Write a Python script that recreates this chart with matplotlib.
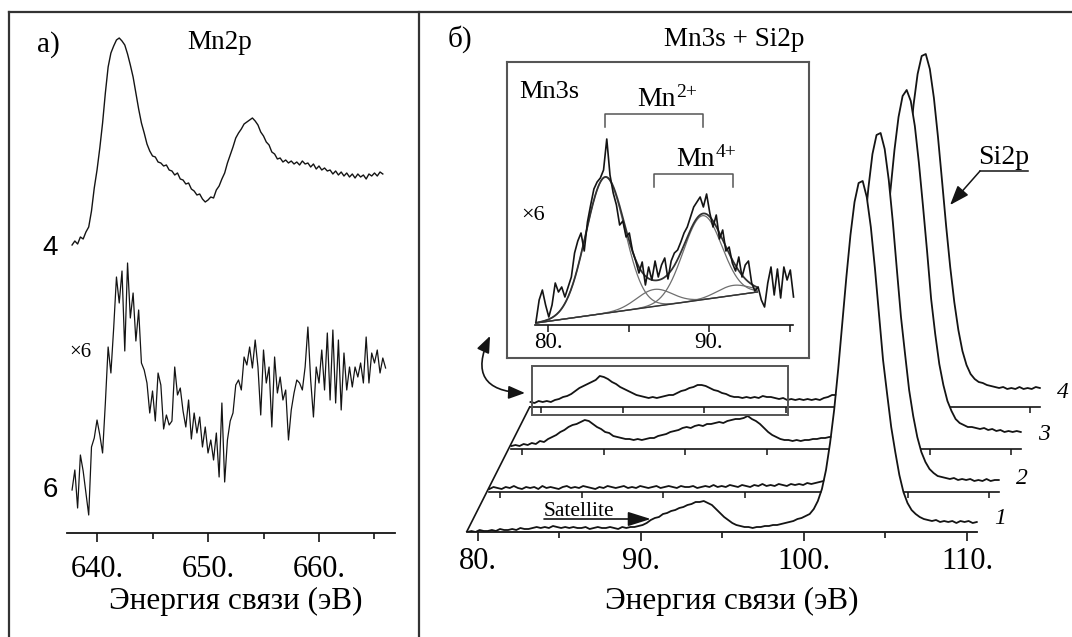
import numpy as np
import matplotlib.pyplot as plt
from matplotlib.lines import Line2D
from matplotlib.patches import Rectangle
from matplotlib.ticker import FuncFormatter

plt.rcParams['font.family'] = ['Liberation Serif', 'DejaVu Serif']

ink = '#141414'
grey = '#555555'

# --- Mn2p spectra, samples 4 and 6 (sample 6 scaled x6) ---
mn2p_e0, mn2p_step = 637.75, 0.25
mn2p_4 = [288, 292, 289, 296, 294, 301, 306, 322, 345, 363,
          385, 410, 440, 466, 480, 487, 493, 495, 492, 488,
          479, 468, 456, 440, 424, 410, 400, 389, 382, 377,
          376, 371, 370, 367, 368, 363, 362, 358, 360, 354,
          353, 349, 350, 344, 342, 338, 339, 334, 331, 333,
          336, 335, 343, 347, 354, 360, 370, 378, 386, 395,
          400, 404, 409, 411, 413, 415, 412, 408, 401, 397,
          391, 388, 381, 379, 374, 375, 371, 373, 370, 372,
          369, 371, 368, 372, 369, 370, 366, 369, 364, 367,
          363, 365, 362, 363, 359, 362, 358, 361, 357, 360,
          356, 359, 355, 359, 356, 358, 354, 359, 357, 360,
          357, 361, 359]
mn2p_6 = [43, 63, 25, 78, 62, 40, 18, 86, 95, 113,
          98, 80, 130, 186, 160, 205, 256, 230, 262, 182,
          270, 215, 240, 192, 223, 170, 163, 150, 120, 142,
          112, 160, 148, 104, 118, 108, 112, 166, 138, 145,
          122, 106, 133, 94, 120, 100, 116, 86, 106, 80,
          93, 73, 100, 56, 130, 51, 93, 112, 120, 148,
          153, 143, 176, 168, 186, 165, 193, 166, 118, 183,
          150, 166, 106, 176, 140, 156, 133, 143, 93, 123,
          140, 153, 150, 143, 166, 206, 153, 116, 166, 150,
          183, 143, 200, 133, 203, 130, 193, 123, 180, 143,
          166, 146, 166, 156, 170, 150, 196, 150, 180, 170,
          183, 160, 175, 165]

# --- Mn3s + Si2p spectra, samples 1-4, common energy grid ---
si_e0, si_step = 79.35, 0.25
si2p_1 = [0, 1, 0, 2, 1, 1, 2, 1, 3, 2, 2, 3, 2, 4, 3, 3, 4, 5, 4, 5,
          4, 6, 5, 4, 5, 4, 5, 4, 4, 5, 3, 4, 5, 4, 4, 5, 4, 3, 5, 4,
          5, 5, 6,
          7, 9, 12, 14, 15, 18, 19, 21, 22, 24, 25, 27, 28, 30, 30, 31, 29, 27, 23, 19,
          15, 12, 9, 7, 6, 5, 5, 4, 5, 5, 6, 6, 7, 7, 8, 9, 10, 11, 13,
          14, 16, 18, 23, 31, 43, 62, 89, 122, 163, 209, 255, 297, 330, 349, 351, 335, 305,
          264, 218, 172, 138, 105, 80, 57, 40, 29, 22, 18, 15, 13, 12, 11, 12, 10, 11,
          10, 11, 9, 11, 10, 11, 9, 10]
si2p_2 = [3, 5, 4, 3, 5, 4, 6, 4, 3, 5, 4, 5, 3, 6, 4, 5, 4, 3, 5, 6,
          4, 5, 4, 6, 5, 4, 3, 5, 4, 6, 5, 4, 5, 6, 4, 5, 4, 6, 5, 4,
          5, 6, 4, 5, 6, 5, 4, 6, 5, 5, 6, 4, 5, 6, 5, 7, 5, 6, 5, 7,
          6, 5, 7, 6, 5, 7, 6, 8, 6, 7, 6, 8, 7, 6, 8, 7, 8, 7, 9, 8,
          9, 10, 11, 13, 21, 29, 42, 62, 89, 124, 166, 213, 261, 304, 338, 357, 359, 343,
          312, 270, 222, 175, 138, 102, 76, 55, 40, 30, 23, 19, 16, 15, 14, 13, 14, 12,
          13, 12, 13, 11, 12, 11, 13, 11, 12, 12]
si2p_3 = [3, 4, 3, 5, 4, 6, 5, 8, 7, 10, 12, 14, 17, 19, 22, 24, 25, 27, 29, 28,
          25, 22, 20, 17, 16, 13, 12, 11, 10, 10, 9, 10, 9, 10, 11, 11, 13, 14, 15, 17,
          18, 19, 21, 22, 21, 23, 24, 23, 25, 25, 26, 27, 26, 28, 29, 30, 30, 31, 33, 30,
          28, 25, 21, 17, 14, 12, 10, 9, 9, 8, 9, 8, 9, 9, 10, 10, 11, 11, 12, 12,
          13, 14, 16, 18,
          21, 27, 36, 49, 68, 95, 128, 168, 212, 258, 299, 332, 353, 359, 348, 323,
          286, 243, 198, 150, 115, 85, 64, 48, 38, 30, 26, 24, 22, 22, 21, 20, 21, 19,
          20, 18, 19, 17, 18, 17, 18, 17]
si2p_4 = [5, 4, 6, 5, 6, 5, 7, 8, 10, 11, 13, 16, 19, 21, 23, 25, 27, 31, 30, 28,
          25, 23, 20, 18, 16, 14, 12, 11, 10, 9, 10, 9, 10, 11, 12, 12, 14, 16, 17, 19,
          20, 22, 22, 21, 19, 17, 16, 14, 13, 11, 10, 10, 9, 10, 9, 10, 9, 11, 10, 10,
          9, 8, 9, 7, 8, 7, 8, 7, 8, 7, 8, 7, 9, 10, 12, 12, 13, 13, 14, 15,
          16, 17, 19, 21, 24,
          31, 39, 53, 72, 98, 132, 172, 217, 262, 302, 333, 351, 353, 338, 309, 270,
          226, 181, 140, 105, 77, 56, 42, 33, 28, 25, 24, 22, 21, 20, 19, 20, 18, 19,
          18, 20, 18, 19, 18, 20, 19]
sample_names = ['1', '2', '3', '4']

# waterfall shift of each trace (energy, intensity)
stack_dx = [0.0, 1.35, 2.70, 3.87]
stack_dy = [0, 40, 83, 125]

# --- Mn3s detail of sample 4 (x6) with fit ---
mn3s_e0, mn3s_step = 79.25, 0.2
mn3s_4 = [3, 25, 35, 20, 8, 20, 42, 33, 38, 28,
          38, 48, 72, 84, 92, 74, 103, 120, 136, 143,
          147, 155, 186, 150, 132, 120, 100, 104, 88, 92,
          74, 64, 52, 63, 40, 58, 45, 64, 48, 60,
          67, 46, 64, 72, 75, 83, 92, 98, 108, 118,
          123, 128, 118, 131, 112, 98, 110, 86, 95, 74,
          78, 62, 54, 68, 48, 60, 64, 42, 34, 38,
          25, 18, 42, 58, 30, 56, 27, 58, 45, 55,
          28]
fit_lo, fit_hi = 79.25, 93.0
bg_lo, bg_hi = 2, 33
peak_centre = [83.55, 86.6, 89.6, 91.5]
peak_height = [136, 17, 84, 10]
peak_sigma = [1.2, 1.1, 1.2, 1.0]


def fx(px):
    return px / 1072.0


def fy(py):
    return 1.0 - py / 637.0


def energy_axis(ax, lo, hi, major, minor, pad):
    for s in ('top', 'right', 'left'):
        ax.spines[s].set_visible(False)
    ax.spines['bottom'].set_bounds(lo, hi)
    ax.spines['bottom'].set_linewidth(1.3)
    ax.spines['bottom'].set_color(ink)
    ax.set_yticks([])
    ax.set_xticks(major)
    ax.set_xticks(minor, minor=True)
    ax.xaxis.set_major_formatter(FuncFormatter(lambda v, p: '%d.' % v))
    ax.tick_params(axis='x', which='major', direction='out', length=6.5,
                   width=1.2, color=ink, labelsize=22, pad=pad)
    ax.tick_params(axis='x', which='minor', direction='out', length=4.5,
                   width=1.2, color=ink)
    ax.patch.set_visible(False)


def ion_label(ax, x, y, charge):
    # "Mn" with a raised charge, anchored where the two meet
    ax.text(x, y, 'Mn', fontsize=20, ha='right', va='baseline')
    ax.text(x + 0.05, y + 9, charge, fontsize=14, ha='left', va='baseline')


fig = plt.figure(figsize=(10.72, 6.37), dpi=100)

# outer frame and divider
for xs, ys in (([fx(9), 1.0], [fy(12), fy(12)]),
               ([fx(9), fx(9)], [fy(12), 0.0]),
               ([fx(419), fx(419)], [fy(12), 0.0])):
    fig.add_artist(Line2D(xs, ys, color='#333333', lw=1.6))

# ---------------- panel a: Mn2p ----------------
ax_a = fig.add_axes([fx(30), fy(533), fx(380), 513 / 637])
ax_a.set_xlim(633.96, 668.2)
ax_a.set_ylim(0, 513)
energy_axis(ax_a, 637.3, 666.85, [640, 650, 660], [645, 655, 665], 9.5)

e_a4 = mn2p_e0 + mn2p_step * np.arange(len(mn2p_4))
e_a6 = mn2p_e0 + mn2p_step * np.arange(len(mn2p_6))
ax_a.plot(e_a4, mn2p_4, color=ink, lw=1.0)
ax_a.plot(e_a6, mn2p_6, color=ink, lw=0.9)
ax_a.text(e_a4[0] - 2.0, mn2p_4[0] - 3, '4', family='Liberation Sans',
          fontsize=20, ha='center', va='center')
ax_a.text(e_a6[0] - 2.0, mn2p_6[0], '6', family='Liberation Sans',
          fontsize=20, ha='center', va='center')
ax_a.text(638.5, 181, '×6', fontsize=15, ha='center', va='center')
ax_a.set_xlabel('Энергия связи (эВ)', fontsize=22.5)
ax_a.xaxis.set_label_coords(0.542, -0.105)

fig.text(fx(48), fy(52), 'а)', fontsize=21, ha='center', va='baseline')
fig.text(fx(220), fy(49), 'Mn2p', fontsize=19.5, ha='center', va='baseline')

# ---------------- panel b: Mn3s + Si2p ----------------
ax_b = fig.add_axes([fx(440), fy(532), fx(632), 512 / 637])
ax_b.set_xlim(77.669, 116.442)
ax_b.set_ylim(0, 512)
axis_lo, axis_hi = 79.3, 110.6
energy_axis(ax_b, axis_lo, axis_hi, [80, 90, 100, 110], [85, 95, 105], 4)
ax_b.spines['bottom'].set_zorder(13)
ax_b.set_xlabel('Энергия связи (эВ)', fontsize=22.5)
ax_b.xaxis.set_label_coords(0.462, -0.107)

e_si = si_e0 + si_step * np.arange(len(si2p_1))
traces = [si2p_1, si2p_2, si2p_3, si2p_4]
ticks = np.arange(80, 111, 5)
for k in (3, 2, 1, 0):
    z = 2 + (3 - k) * 3
    dx, dy = stack_dx[k], stack_dy[k]
    x = e_si + dx
    y = np.asarray(traces[k]) + dy
    ax_b.fill_between(x, dy, y, color='white', lw=0, zorder=z)
    if k > 0:
        ax_b.plot([axis_lo + dx, axis_hi + dx], [dy, dy], color=ink, lw=1.2, zorder=z + 1)
        ax_b.vlines(ticks + dx, dy - 6, dy, color=ink, lw=1.1, zorder=z + 1)
    ax_b.plot(x, y, color=ink, lw=1.3, zorder=z + 2)
    ax_b.text(x[-1] + 1.4, dy + 14, sample_names[k], style='italic',
              fontsize=17, ha='center', va='center')

# slanted edge joining the starts of the stacked axes
ax_b.plot([axis_lo + stack_dx[0], axis_lo + stack_dx[3]],
          [stack_dy[0], stack_dy[3]], color=ink, lw=1.2, zorder=20)

# frame marking the region enlarged in the inset
ax_b.add_patch(Rectangle((79.45 + stack_dx[3], stack_dy[3] - 8), 15.7, 49,
                         fill=False, edgecolor=grey, lw=1.4, zorder=20))
ax_b.annotate('', xy=(82.88, 139), xytext=(80.74, 196),
              arrowprops=dict(arrowstyle='<|-|>,head_length=0.5,head_width=0.2',
                              connectionstyle='arc3,rad=0.75', color=ink, lw=1.2,
                              shrinkA=0, shrinkB=0, mutation_scale=20),
              zorder=20)

# satellite marker
ax_b.text(84.05, 16, 'Satellite', fontsize=15.5, ha='left', va='baseline', zorder=20)
ax_b.annotate('', xy=(90.6, 13), xytext=(84.05, 13),
              arrowprops=dict(arrowstyle='-|>,head_length=0.7,head_width=0.22',
                              color=ink, lw=1.2, shrinkA=0, shrinkB=0,
                              mutation_scale=20), zorder=20)

# Si2p marker
ax_b.text(112.25, 368, 'Si2p', fontsize=20, ha='center', va='baseline', zorder=20)
ax_b.plot([110.8, 113.75], [361, 361], color=ink, lw=1.1, zorder=20)
ax_b.annotate('', xy=(108.96, 327), xytext=(110.8, 361),
              arrowprops=dict(arrowstyle='-|>,head_length=0.6,head_width=0.22',
                              color=ink, lw=1.1, shrinkA=0, shrinkB=0,
                              mutation_scale=20), zorder=20)

fig.text(fx(460), fy(47), 'б)', fontsize=21, ha='center', va='baseline')
fig.text(fx(734), fy(46), 'Mn3s + Si2p', fontsize=19.5, ha='center', va='baseline')

# ---------------- inset: Mn3s fit ----------------
ax_in = fig.add_axes([fx(507), fy(358), fx(302), 296 / 637])
ax_in.set_xlim(77.453, 96.211)
ax_in.set_ylim(-33, 263)
ax_in.set_xticks([])
ax_in.set_yticks([])
ax_in.set_facecolor('white')
for s in ax_in.spines.values():
    s.set_color(grey)
    s.set_linewidth(1.5)

ax_in.plot([79.19, 95.22], [0, 0], color=ink, lw=1.2)
ax_in.vlines([80, 85, 90, 95], -7, 0, color=ink, lw=1.1)
for t in (80, 90):
    ax_in.text(t, -18, '%d.' % t, fontsize=16.5, ha='center', va='center')

e_fit = np.linspace(fit_lo, fit_hi, 300)
bg = bg_lo + (bg_hi - bg_lo) * (e_fit - fit_lo) / (fit_hi - fit_lo)
comps = [h * np.exp(-(e_fit - c) ** 2 / (2 * s ** 2))
         for c, h, s in zip(peak_centre, peak_height, peak_sigma)]
for comp in comps:
    ax_in.plot(e_fit, bg + comp, color='#6f6f6f', lw=0.9)
ax_in.plot(e_fit, bg, color='#333333', lw=1.0)
ax_in.plot(e_fit, bg + np.sum(comps, axis=0), color='#333333', lw=1.3)

e_in = mn3s_e0 + mn3s_step * np.arange(len(mn3s_4))
ax_in.plot(e_in, mn3s_4, color=ink, lw=1.2)

# multiplet splitting brackets
for (c1, c2), top, charge in (((peak_centre[0], peak_centre[2]), 211, '2+'),
                              ((peak_centre[1], peak_centre[3]), 151, '4+')):
    ax_in.plot([c1, c1, c2, c2], [top - 13, top, top, top - 13], color=grey, lw=1.1)
    ion_label(ax_in, (c1 + c2) / 2 + 1.33, top + 8, charge)

ax_in.text(78.2, 227, 'Mn3s', fontsize=19, ha='left', va='baseline')
ax_in.text(79.07, 110, '×6', fontsize=16, ha='center', va='center')

fig.savefig('out.png', dpi=100)
